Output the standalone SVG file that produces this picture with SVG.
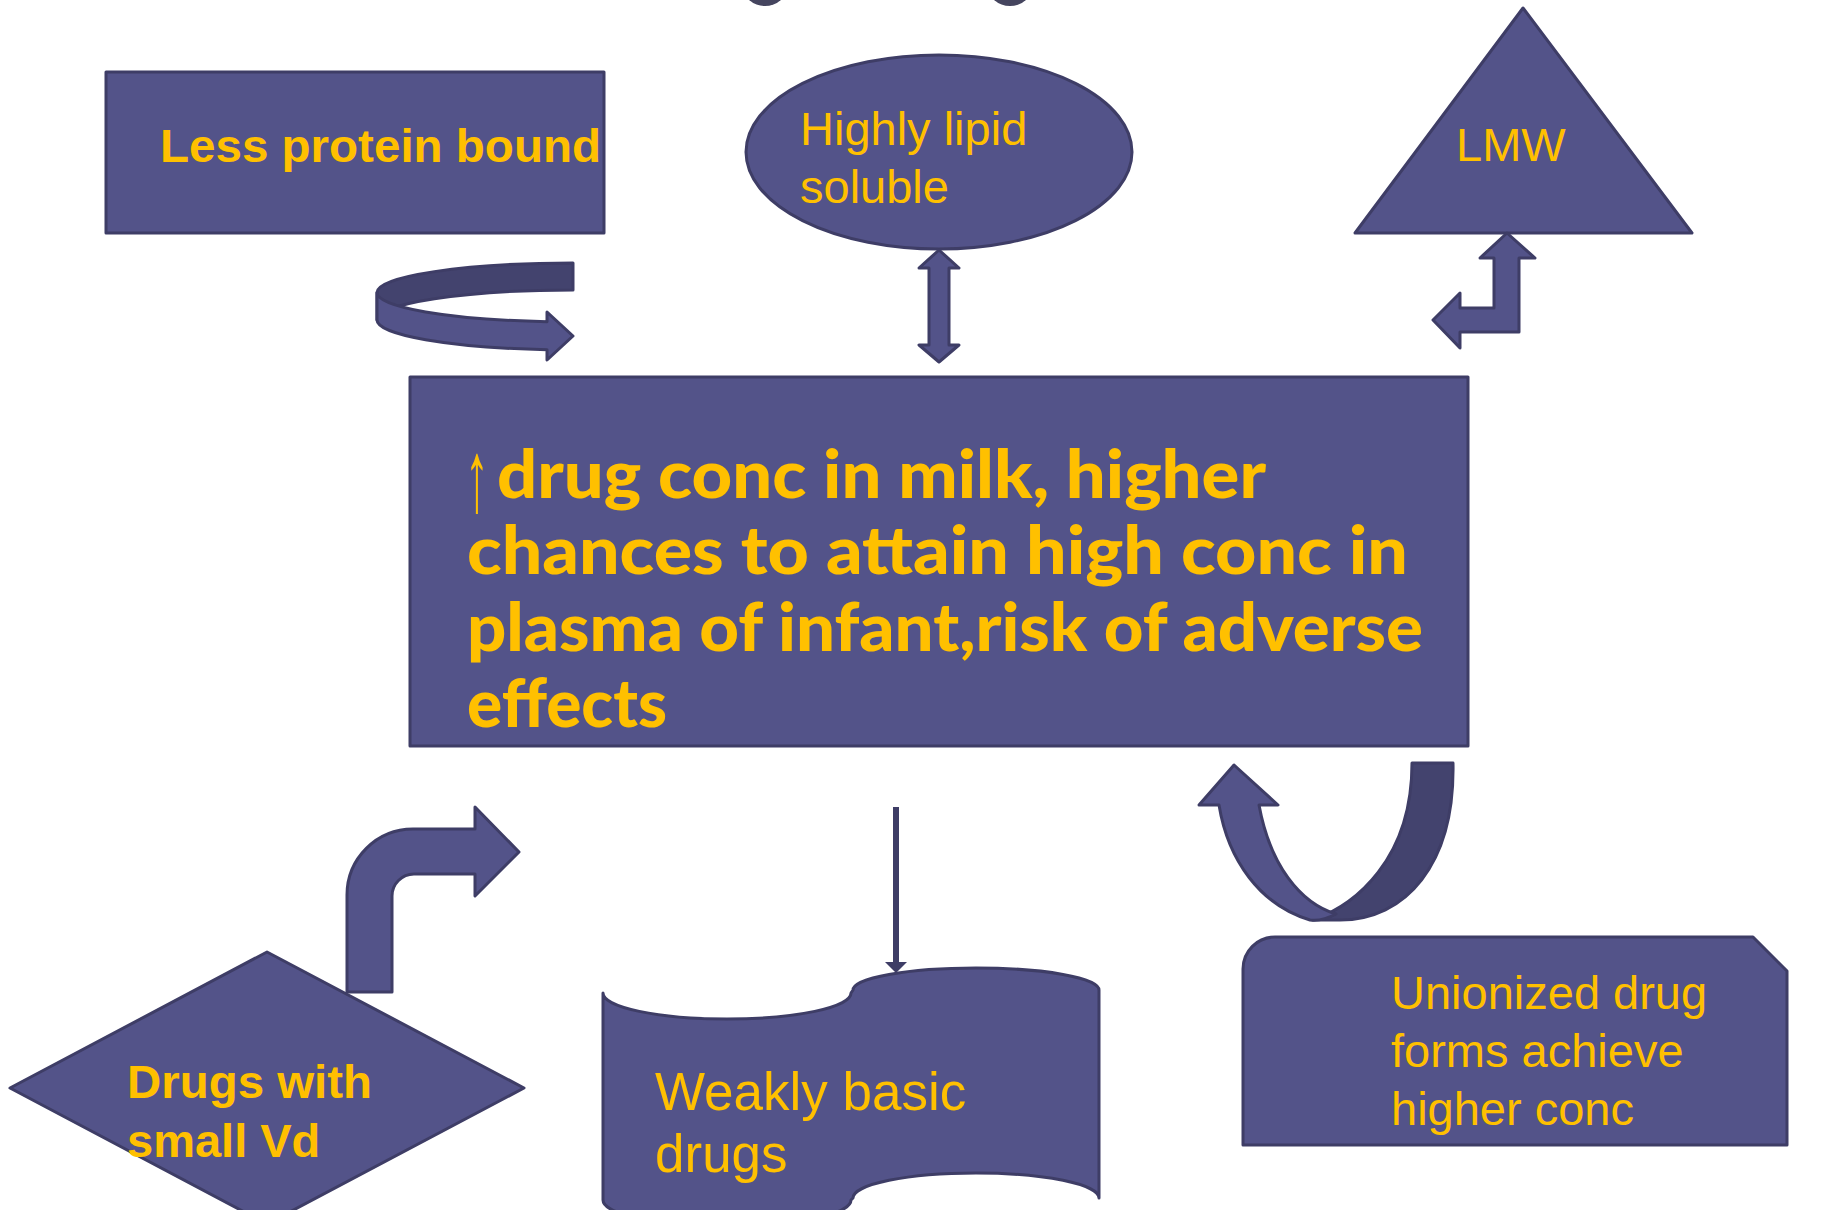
<svg xmlns="http://www.w3.org/2000/svg" width="1845" height="1210" viewBox="0 0 1845 1210">
  <style>
    .shape{fill:#535389;stroke:#3E3D66;stroke-width:3;stroke-linejoin:round}
    .back{fill:#43436E;stroke:#3E3D66;stroke-width:3;stroke-linejoin:round}
    .blob{fill:#45455F}
    .lbl{font-family:"Liberation Sans",Arial,sans-serif;font-size:47px;fill:#FFC000}
    .bold{font-weight:bold}
    .main{font-family:Lato,"Liberation Sans",sans-serif;font-weight:900;font-size:66px;fill:#FFC000}
    .uparrow{font-family:"Liberation Sans",Arial,sans-serif;font-weight:normal;font-size:102px;fill:#FFC000}
  </style>
  <rect width="1845" height="1210" fill="#FFFFFF"/>

  <!-- partial shape running off the top edge -->
  <g id="top-fragment">
    <ellipse class="blob" cx="765" cy="-14" rx="22" ry="20"/>
    <ellipse class="blob" cx="1010" cy="-14" rx="22" ry="20"/>
  </g>

  <g id="node-protein">
    <rect class="shape" x="106" y="72" width="498" height="161"/>
    <text class="lbl bold" x="160" y="162" textLength="441" lengthAdjust="spacingAndGlyphs">Less protein bound</text>
  </g>

  <g id="node-lipid">
    <ellipse class="shape" cx="939" cy="152" rx="193" ry="97"/>
    <text class="lbl" x="800" y="145">Highly lipid</text>
    <text class="lbl" x="800" y="203">soluble</text>
  </g>

  <g id="node-lmw">
    <polygon class="shape" points="1523,8 1692,233 1355,233"/>
    <text class="lbl" x="1456" y="161">LMW</text>
  </g>

  <g id="node-main">
    <rect class="shape" x="410" y="377" width="1058" height="369"/>
    <text class="uparrow" x="465" y="511" textLength="24" lengthAdjust="spacingAndGlyphs">↑</text>
    <text class="main" x="497" y="498" textLength="769" lengthAdjust="spacingAndGlyphs">drug conc in milk, higher</text>
    <text class="main" x="467" y="574" textLength="941" lengthAdjust="spacingAndGlyphs">chances to attain high conc in</text>
    <text class="main" x="467" y="651" textLength="956" lengthAdjust="spacingAndGlyphs">plasma of infant,risk of adverse</text>
    <text class="main" x="467" y="727" textLength="200" lengthAdjust="spacingAndGlyphs">effects</text>
  </g>

  <g id="node-small-vd">
    <polygon class="shape" points="10,1088 267,952 524,1088 267,1224"/>
    <text class="lbl bold" x="127" y="1098" textLength="245" lengthAdjust="spacingAndGlyphs">Drugs with</text>
    <text class="lbl bold" x="127" y="1157">small Vd</text>
  </g>

  <g id="node-weak-base">
    <path class="shape" d="M603,993 A124,26 0 0 0 851,993 L853,990 A123,22 0 0 1 1099,990 L1099,1198 A123,25 0 0 0 853,1198 L851,1200 A124,26 0 0 1 603,1200 Z"/>
    <text class="lbl" x="655" y="1110" style="font-size:53px">Weakly basic</text>
    <text class="lbl" x="655" y="1172" style="font-size:53px">drugs</text>
  </g>

  <g id="node-unionized">
    <path class="shape" d="M1275,937 L1753,937 L1787,971 L1787,1145 L1243,1145 L1243,969 A32,32 0 0 1 1275,937 Z"/>
    <text class="lbl" x="1391" y="1009">Unionized drug</text>
    <text class="lbl" x="1391" y="1067">forms achieve</text>
    <text class="lbl" x="1391" y="1125">higher conc</text>
  </g>

  <g id="connectors">
    <!-- curled ribbon arrow under "Less protein bound" -->
    <path class="back" d="M573,263 A196,29.5 0 0 0 377,292.5 L377,320 A196,30 0 0 1 573,290 Z"/>
    <path class="shape" d="M377,292.5 A196,29.5 0 0 0 547,321.7 L547,312 L573,336 L547,360 L547,349.7 A196,30 0 0 1 377,320 Z"/>

    <!-- two-headed arrow between lipid node and main box -->
    <path class="shape" d="M939,250 L959,268 L949,268 L949,345 L959,345 L939,362 L919,345 L929,345 L929,268 L919,268 Z"/>

    <!-- bent arrow from main box up to LMW -->
    <path class="shape" d="M1507,233 L1535,258 L1519,258 L1519,332 L1460,332 L1460,348 L1433,320 L1460,293 L1460,308 L1494,308 L1494,258 L1480,258 Z"/>

    <!-- bent arrow from small Vd towards main box -->
    <path class="shape" d="M347,992 L347,895 A66,66 0 0 1 413,829 L475,829 L475,807 L519,852 L475,896 L475,874 L414,874 A22,22 0 0 0 392,896 L392,992 Z"/>

    <!-- thin arrow from main box down to weakly basic drugs -->
    <rect x="893" y="807" width="6" height="158" fill="#3E3D66"/>
    <polygon points="885,962 907,962 896,973" fill="#3E3D66"/>

    <!-- U-turn arrow from unionized node back to main box -->
    <path class="back" d="M1412,763 L1453,763 C1455,865 1405,920 1340,920 L1313,920 C1355,905 1412,860 1412,763 Z"/>
    <path class="shape" d="M1199,805 L1234,765 L1278,805 L1259,805 C1270,865 1300,903 1336,914 C1325,920 1318,921 1310,920 C1260,905 1228,860 1219,805 Z"/>
  </g>
</svg>
